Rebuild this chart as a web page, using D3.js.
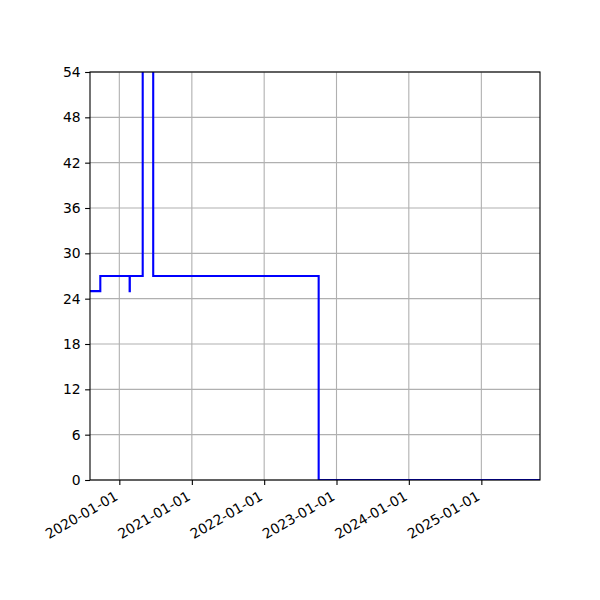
<!DOCTYPE html>
<html>
<head>
<meta charset="utf-8">
<script src="https://cdn.jsdelivr.net/npm/d3@7"></script>
<style>
  body { margin: 0; background: #fff; }
  text { font-family: "DejaVu Sans", sans-serif; }
</style>
</head>
<body>
<script>
// step points (value holds until next date)
const dates = ['2019-08-06', '2019-09-27', '2020-02-22', '2020-02-23', '2020-04-28', '2020-06-20', '2022-10-03', '2025-10-24'];
const values = [25, 27, 25, 27, 70, 27, 0, 0];
const yTicks = [0, 6, 12, 18, 24, 30, 36, 42, 48, 54];
const xTicks = ['2020-01-01', '2021-01-01', '2022-01-01', '2023-01-01', '2024-01-01', '2025-01-01'];
const xStart = '2019-08-06', xEnd = '2025-10-24';

const W = 600, H = 600;
const pLeft = 90, pRight = 540, pTop = 72, pBottom = 480;
const parse = d3.utcParse('%Y-%m-%d');
const fmt = d3.utcFormat('%Y-%m-%d');

const svg = d3.select('body').append('svg').attr('width', W).attr('height', H);

const x = d3.scaleUtc().domain([parse(xStart), parse(xEnd)]).range([pLeft, pRight]);
const y = d3.scaleLinear().domain([0, 54]).range([pBottom, pTop]);

// grid
svg.append('g').selectAll('line').data(xTicks.map(parse)).enter().append('line')
  .attr('x1', d => x(d)).attr('x2', d => x(d)).attr('y1', pTop).attr('y2', pBottom)
  .attr('stroke', '#b0b0b0').attr('stroke-width', 1.1);
svg.append('g').selectAll('line').data(yTicks).enter().append('line')
  .attr('x1', pLeft).attr('x2', pRight).attr('y1', d => y(d)).attr('y2', d => y(d))
  .attr('stroke', '#b0b0b0').attr('stroke-width', 1.1);

// data line
svg.append('clipPath').attr('id', 'clip').append('rect')
  .attr('x', pLeft).attr('y', pTop).attr('width', pRight - pLeft).attr('height', pBottom - pTop);
const pts = dates.map((d, i) => [parse(d), values[i]]);
const line = d3.line().x(d => x(d[0])).y(d => y(d[1])).curve(d3.curveStepAfter);
svg.append('path').datum(pts).attr('d', line).attr('clip-path', 'url(#clip)')
  .attr('fill', 'none').attr('stroke', '#0000ff').attr('stroke-width', 2.1);

// axes
const xAxis = svg.append('g').attr('transform', `translate(0,${pBottom})`)
  .call(d3.axisBottom(x).tickValues(xTicks.map(parse)).tickFormat(fmt).tickSize(4.9).tickSizeOuter(0));
xAxis.selectAll('text')
  .attr('font-size', 13.9).attr('fill', '#000').attr('text-anchor', 'end')
  .attr('transform', 'translate(-1,19) rotate(-30)').attr('y', 0).attr('x', 0).attr('dy', 0);
const yAxis = svg.append('g').attr('transform', `translate(${pLeft},0)`)
  .call(d3.axisLeft(y).tickValues(yTicks).tickSize(4.9).tickSizeOuter(0).tickPadding(4.5));
yAxis.selectAll('text').attr('font-size', 13.9).attr('fill', '#000');
svg.selectAll('.domain').remove();
svg.selectAll('.tick line').attr('stroke', '#000').attr('stroke-width', 1.1);

// frame
svg.append('rect').attr('x', pLeft).attr('y', pTop).attr('width', pRight - pLeft).attr('height', pBottom - pTop)
  .attr('fill', 'none').attr('stroke', '#000').attr('stroke-width', 1.1);
</script>
</body>
</html>
